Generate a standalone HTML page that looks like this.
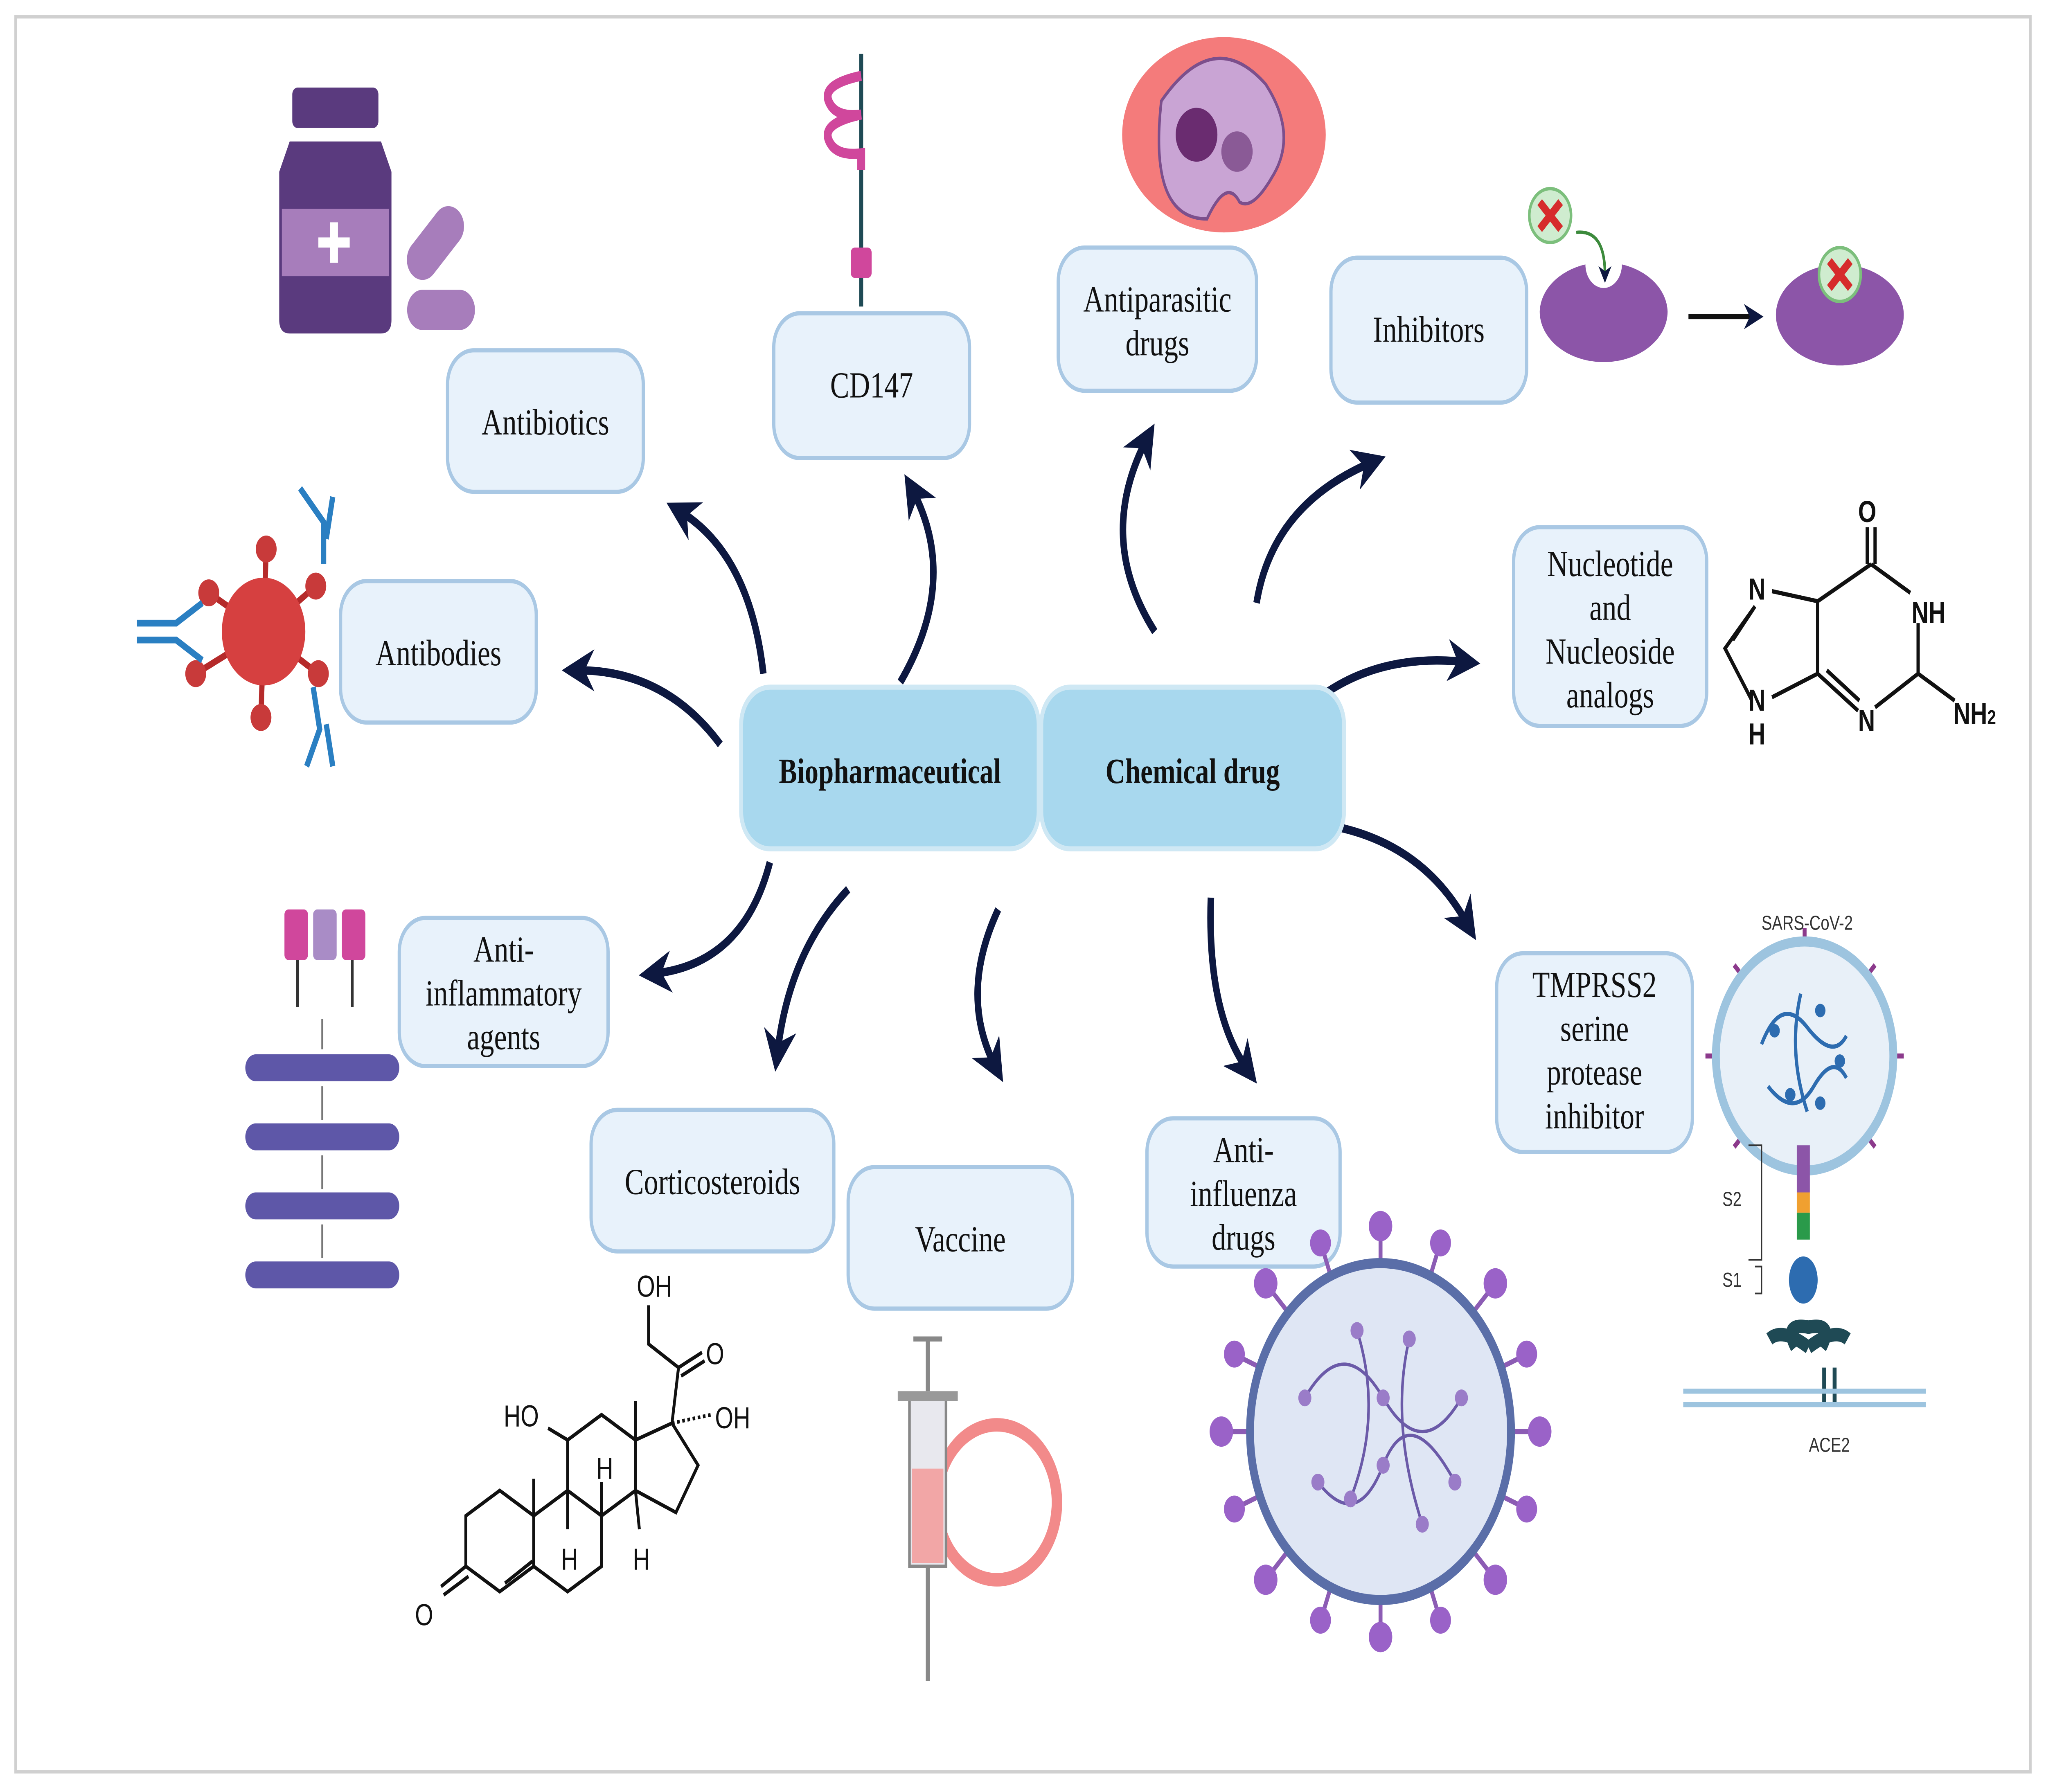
<!DOCTYPE html>
<html><head><meta charset="utf-8"><style>html,body{margin:0;padding:0;background:#fff;width:100%;height:100%;overflow:hidden}svg{display:block;width:100vw;height:100vh}</style></head>
<body>
<svg viewBox="0 0 1568 1064" preserveAspectRatio="none" xmlns="http://www.w3.org/2000/svg" font-family="'Liberation Serif',serif">
<defs>
<marker id="ah" viewBox="0 0 10 10" refX="5" refY="5" markerWidth="5" markerHeight="5" orient="auto-start-reverse" markerUnits="strokeWidth"><path d="M0,0 L10,5 L0,10 L3,5 z" fill="#0d1840"/></marker>
</defs>
<rect x="0" y="0" width="1568" height="1064" fill="#fff"/>
<rect x="12" y="10" width="1544" height="1042" fill="none" stroke="#d0d0d0" stroke-width="2"/>

<g fill="none" stroke="#0d1840" stroke-width="5" marker-end="url(#ah)">
<path d="M585,400 Q575,330 522,304"/>
<path d="M690,405 Q735,345 700,292"/>
<path d="M552,442 Q510,398 443,398"/>
<path d="M590,512 Q570,572 502,578"/>
<path d="M650,528 Q605,565 596,624"/>
<path d="M765,540 Q735,590 762,632"/>
<path d="M885,375 Q840,320 878,262"/>
<path d="M963,358 Q975,300 1050,275"/>
<path d="M1015,412 Q1060,388 1122,393"/>
<path d="M1018,490 Q1090,500 1124,548"/>
<path d="M928,533 Q925,600 955,634"/>
</g>

<g fill="#e8f2fb" stroke="#a9c8e4" stroke-width="2.5">
<rect x="343" y="208" width="150" height="84" rx="20"/>
<rect x="593" y="186" width="150" height="86" rx="20"/>
<rect x="811" y="147" width="152" height="85" rx="20"/>
<rect x="1020" y="153" width="150" height="86" rx="20"/>
<rect x="261" y="345" width="150" height="84" rx="20"/>
<rect x="1160" y="313" width="148" height="118" rx="20"/>
<rect x="306" y="545" width="160" height="88" rx="20"/>
<rect x="453" y="659" width="186" height="84" rx="20"/>
<rect x="650" y="693" width="172" height="84" rx="20"/>
<rect x="879" y="664" width="148" height="88" rx="20"/>
<rect x="1147" y="566" width="150" height="118" rx="20"/>
</g>
<g fill="#a8d8ee" stroke="#cfe8f4" stroke-width="3">
<rect x="568" y="408" width="228" height="96" rx="22"/>
<rect x="798" y="408" width="232" height="96" rx="22"/>
</g>

<g font-size="22" fill="#111" text-anchor="middle">
<text x="418" y="258">Antibiotics</text>
<text x="668" y="236">CD147</text>
<text x="887" y="185">Antiparasitic</text><text x="887" y="211">drugs</text>
<text x="1095" y="203">Inhibitors</text>
<text x="336" y="395">Antibodies</text>
<text x="1234" y="342">Nucleotide</text><text x="1234" y="368">and</text><text x="1234" y="394">Nucleoside</text><text x="1234" y="420">analogs</text>
<text x="386" y="571">Anti-</text><text x="386" y="597">inflammatory</text><text x="386" y="623">agents</text>
<text x="546" y="709">Corticosteroids</text>
<text x="736" y="743">Vaccine</text>
<text x="953" y="690">Anti-</text><text x="953" y="716">influenza</text><text x="953" y="742">drugs</text>
<text x="1222" y="592">TMPRSS2</text><text x="1222" y="618">serine</text><text x="1222" y="644">protease</text><text x="1222" y="670">inhibitor</text>
<text x="682" y="465" font-weight="bold" font-size="21">Biopharmaceutical</text>
<text x="914" y="465" font-weight="bold" font-size="21">Chemical drug</text>
</g>

<rect x="224" y="52" width="66" height="24" rx="4" fill="#5a3a7e"/>
<path d="M222,84 h70 l8,18 v88 q0,8 -8,8 h-70 q-8,0 -8,-8 v-88 z" fill="#5a3a7e"/>
<rect x="216" y="124" width="82" height="40" fill="#a77dbb"/>
<path d="M256,132 v24 M244,144 h24" stroke="#fff" stroke-width="6"/>
<rect x="312" y="172" width="52" height="24" rx="12" fill="#a77dbb"/>
<g transform="rotate(-45 333 145)"><rect x="308" y="133" width="52" height="24" rx="12" fill="#a77dbb"/></g>

<path d="M660,32 v150" stroke="#1f4a55" stroke-width="3"/>
<path d="M660,45 q-30,5 -25,15 q5,10 25,8 q-30,5 -25,15 q5,10 25,8 v10" fill="none" stroke="#d0479c" stroke-width="6"/>
<rect x="652" y="147" width="16" height="18" rx="3" fill="#d0479c"/>

<ellipse cx="938" cy="80" rx="78" ry="58" fill="#f47b7b"/>
<path d="M890,60 q40,-45 80,-10 q25,30 5,55 q-15,20 -25,15 q-10,-15 -25,10 q-45,0 -35,-70z" fill="#c9a4d4" stroke="#7c4f8c" stroke-width="2"/>
<circle cx="917" cy="80" r="16" fill="#6a2c70"/>
<circle cx="948" cy="90" r="12" fill="#8a5a96"/>

<circle cx="1188" cy="128" r="16" fill="#cfeccf" stroke="#7cbf7c" stroke-width="2"/>
<path d="M1180,120 l16,16 M1196,120 l-16,16" stroke="#d62c2c" stroke-width="5"/>
<path d="M1208,138 q22,-2 22,25" fill="none" stroke="#3c8a3c" stroke-width="2" marker-end="url(#ah)"/>
<path d="M1180,185 a49,30 0 0 0 98,0 a49,30 0 0 0 -35,-28 a14,14 0 0 1 -28,0 a49,30 0 0 0 -35,28z" fill="#8c55a8"/>
<path d="M1294,188 h50" stroke="#111" stroke-width="3" marker-end="url(#ah)"/>
<ellipse cx="1410" cy="187" rx="49" ry="30" fill="#8c55a8"/>
<circle cx="1410" cy="163" r="16" fill="#cfeccf" stroke="#7cbf7c" stroke-width="2"/>
<path d="M1402,155 l16,16 M1418,155 l-16,16" stroke="#d62c2c" stroke-width="5"/>

<g stroke="#b52a2a" stroke-width="4">
<path d="M202,375 L204,326 M202,375 L160,352 M202,375 L150,400 M202,375 L200,426 M202,375 L242,348 M202,375 L244,400"/>
</g>
<g fill="#c83a3a"><circle cx="204" cy="326" r="8"/><circle cx="160" cy="352" r="8"/><circle cx="150" cy="400" r="8"/><circle cx="200" cy="426" r="8"/><circle cx="242" cy="348" r="8"/><circle cx="244" cy="400" r="8"/></g>
<circle cx="202" cy="375" r="32" fill="#d64040"/>
<g stroke="#2a7fc2" stroke-width="4" fill="none">
<path d="M105,370 l30,0 l20,-12 M105,380 l30,0 l20,12"/>
<path d="M230,290 l18,20 l0,25 M255,295 l-5,25"/>
<path d="M235,455 l10,-22 l-5,-25 M255,455 l-5,-25"/>
</g>

<!-- guanine -->
<g stroke="#111" stroke-width="2.5" fill="none">
<path d="M1431,313 v22 M1437,313 v22"/>
<path d="M1434,335 l30,17 M1470,370 v30 l-33,20 M1424,422 l-31,-22 v-43 l41,-22"/>
<path d="M1393,357 l-35,-6 M1393,400 l-35,14 M1345,360 l-23,25 l20,30 M1328,380 l17,-20"/>
<path d="M1470,400 l28,16 M1400,398 l25,18"/>
</g>
<g font-family="'Liberation Sans',sans-serif" font-size="18" font-weight="bold" fill="#111">
<text x="1424" y="310">O</text><text x="1465" y="370">NH</text><text x="1340" y="356">N</text><text x="1340" y="422">N</text><text x="1340" y="442">H</text><text x="1424" y="434">N</text><text x="1497" y="430">NH<tspan font-size="12">2</tspan></text>
</g>

<g fill="#d0479c"><rect x="218" y="540" width="18" height="30" rx="3"/><rect x="262" y="540" width="18" height="30" rx="3"/></g>
<rect x="240" y="540" width="18" height="30" rx="3" fill="#a98cc6"/>
<path d="M228,570 v28 M270,570 v28" stroke="#333" stroke-width="2"/>
<g fill="#5e57a8"><rect x="188" y="626" width="118" height="16" rx="8"/><rect x="188" y="667" width="118" height="16" rx="8"/><rect x="188" y="708" width="118" height="16" rx="8"/><rect x="188" y="749" width="118" height="16" rx="8"/></g>
<path d="M247,605 v18 M247,645 v20 M247,686 v20 M247,727 v20" stroke="#777" stroke-width="1.5"/>

<!-- steroid -->
<g stroke="#111" stroke-width="2.2" fill="none">
<path d="M383,885 L409,900 L409,930 L383,945 L357,930 L357,900 Z"/>
<path d="M409,900 L435,885 L461,900 L461,930 L435,945 L409,930"/>
<path d="M387,940 L408,927"/>
<path d="M435,885 L435,855 L461,840 L487,855 L487,885 L461,900"/>
<path d="M487,855 L515,845 L535,870 L518,898 L487,885"/>
<path d="M357,930 L338,942 M359,936 L340,947"/>
<path d="M409,900 L409,878 M487,855 L487,832"/>
<path d="M435,855 L420,848"/>
<path d="M515,845 L520,812 L497,798 L497,775 M520,812 L538,803 M522,817 L540,808"/>
<path d="M515,845 L545,840" stroke-dasharray="2 2"/>
<path d="M461,900 L461,880 M435,885 L435,908 M487,885 L490,908"/>
</g>
<g font-family="'Liberation Sans',sans-serif" font-size="18" fill="#111">
<text x="488" y="770">OH</text><text x="541" y="810">O</text><text x="548" y="848">OH</text><text x="386" y="847">HO</text><text x="457" y="878">H</text><text x="430" y="932">H</text><text x="485" y="932">H</text><text x="318" y="965">O</text>
</g>

<circle cx="764" cy="892" r="46" fill="none" stroke="#f28a8a" stroke-width="8"/>
<rect x="697" y="830" width="28" height="100" fill="#e8e8ee" stroke="#888" stroke-width="2"/>
<rect x="699" y="872" width="24" height="56" fill="#f2a6a6"/>
<rect x="688" y="826" width="46" height="6" fill="#999"/>
<path d="M711,826 v-30 M700,795 h22 M711,930 v68" stroke="#888" stroke-width="3"/>

<g stroke="#8c5cb4" stroke-width="3">
<path d="M1058,850 m0,-100 v-20 M1058,850 m0,100 v20 M958,850 h-20 M1158,850 h20 M987,779 l-15,-15 M1129,779 l15,-15 M987,921 l-15,15 M1129,921 l15,15 M1020,758 l-7,-18 M1096,758 l7,-18 M1020,942 l-7,18 M1096,942 l7,18 M966,812 l-18,-7 M1150,812 l18,-7 M966,888 l-18,7 M1150,888 l18,7"/>
</g>
<g fill="#9a62c8">
<circle cx="1058" cy="728" r="9"/><circle cx="1058" cy="972" r="9"/><circle cx="936" cy="850" r="9"/><circle cx="1180" cy="850" r="9"/>
<circle cx="970" cy="762" r="9"/><circle cx="1146" cy="762" r="9"/><circle cx="970" cy="938" r="9"/><circle cx="1146" cy="938" r="9"/>
<circle cx="1012" cy="738" r="8"/><circle cx="1104" cy="738" r="8"/><circle cx="1012" cy="962" r="8"/><circle cx="1104" cy="962" r="8"/>
<circle cx="946" cy="804" r="8"/><circle cx="1170" cy="804" r="8"/><circle cx="946" cy="896" r="8"/><circle cx="1170" cy="896" r="8"/>
</g>
<circle cx="1058" cy="850" r="100" fill="#dfe6f4" stroke="#5a6ea8" stroke-width="6"/>
<g fill="none" stroke="#6b5aa8" stroke-width="2"><path d="M1000,830 q30,-40 60,0 t60,0 M1010,880 q30,30 50,-10 t55,10 M1040,790 q20,50 -5,100 M1080,795 q-15,50 10,110"/></g>
<g fill="#9a7cc8"><circle cx="1000" cy="830" r="5"/><circle cx="1060" cy="830" r="5"/><circle cx="1120" cy="830" r="5"/><circle cx="1010" cy="880" r="5"/><circle cx="1060" cy="870" r="5"/><circle cx="1115" cy="880" r="5"/><circle cx="1040" cy="790" r="5"/><circle cx="1035" cy="890" r="5"/><circle cx="1080" cy="795" r="5"/><circle cx="1090" cy="905" r="5"/></g>

<text x="1385" y="552" font-family="'Liberation Sans',sans-serif" font-size="12" text-anchor="middle" fill="#333">SARS-CoV-2</text>
<g stroke="#8c3a8c" stroke-width="3"><path d="M1383,559 v-8 M1383,695 v8 M1315,627 h-8 M1451,627 h8 M1335,579 l-6,-6 M1431,579 l6,-6 M1335,675 l-6,6 M1431,675 l6,6"/></g>
<circle cx="1383" cy="627" r="68" fill="#e8f0f8" stroke="#9dc4df" stroke-width="6"/>
<g fill="none" stroke="#2d6cb0" stroke-width="2.5"><path d="M1350,620 q15,-30 35,-10 t30,5 M1355,645 q20,20 35,0 t25,-5 M1380,590 q-10,35 5,70"/></g>
<g fill="#2d6cb0"><circle cx="1360" cy="612" r="4"/><circle cx="1395" cy="600" r="4"/><circle cx="1410" cy="630" r="4"/><circle cx="1372" cy="650" r="4"/><circle cx="1395" cy="655" r="4"/></g>
<rect x="1377" y="680" width="10" height="28" fill="#8c55a8"/><rect x="1377" y="708" width="10" height="12" fill="#f0a030"/><rect x="1377" y="720" width="10" height="16" fill="#2a9a4a"/>
<ellipse cx="1382" cy="760" rx="11" ry="14" fill="#2d6cb0"/>
<text x="1320" y="716" font-family="'Liberation Sans',sans-serif" font-size="12" fill="#333">S2</text>
<text x="1320" y="764" font-family="'Liberation Sans',sans-serif" font-size="12" fill="#333">S1</text>
<path d="M1340,680 h10 v68 h-10 M1345,752 h5 v16 h-5" fill="none" stroke="#333"/>
<path d="M1376,800 q-10,-15 10,-12 q20,-3 10,12 M1386,800 q20,-12 30,-5 M1386,800 q-20,-12 -30,-5" fill="none" stroke="#1f4a55" stroke-width="8"/>
<path d="M1398,812 v22 M1406,812 v22" stroke="#1f4a55" stroke-width="3"/>
<path d="M1290,826 h186 M1290,834 h186" stroke="#9dc4df" stroke-width="3"/>
<text x="1402" y="862" font-family="'Liberation Sans',sans-serif" font-size="12" text-anchor="middle" fill="#333">ACE2</text>
</svg>
</body></html>
